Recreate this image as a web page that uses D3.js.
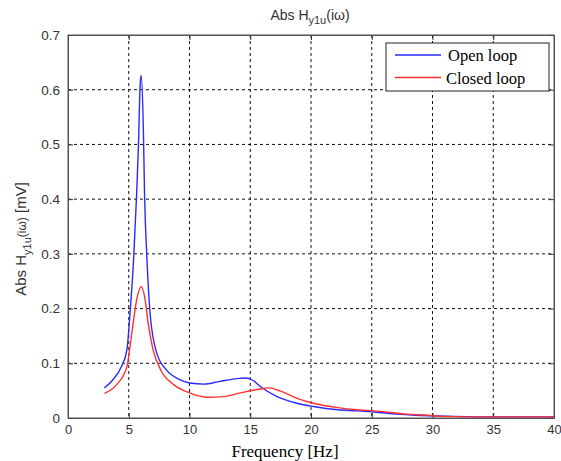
<!DOCTYPE html>
<html><head><meta charset="utf-8">
<script src="https://cdn.jsdelivr.net/npm/d3@7"></script>
<style>body{margin:0;background:#fff}svg{display:block}</style>
</head><body>
<script>
// Data (frequency in Hz, magnitude in mV)
const openFreq = [3, 3.7, 4.4, 4.85, 5.1, 5.4, 5.65, 5.8, 5.94, 6.02, 6.2, 6.3, 6.5, 6.76, 7.3, 8.1, 9.2, 10, 11.2, 12.5, 13.9, 14.6, 15.2, 15.8, 17.2, 18.85, 20.2, 22.2, 23.8, 25.2, 27.1, 28.6, 31.8, 35, 40];
const openVals = [0.055, 0.07, 0.094, 0.125, 0.19, 0.29, 0.41, 0.50, 0.61, 0.626, 0.53, 0.41, 0.29, 0.19, 0.119, 0.088, 0.07, 0.064, 0.062, 0.067, 0.072, 0.073, 0.069, 0.058, 0.039, 0.027, 0.021, 0.015, 0.013, 0.011, 0.007, 0.005, 0.003, 0.002, 0.002];
const closedFreq = [3, 4, 4.85, 5.25, 5.65, 6.02, 6.35, 6.6, 7.0, 7.7, 8.7, 10, 11.5, 12.8, 14.2, 15.6, 16.5, 17.5, 18.85, 20.2, 22.2, 23.8, 25.2, 27.9, 29.6, 30.7, 35, 40];
const closedVals = [0.045, 0.061, 0.094, 0.155, 0.216, 0.24, 0.216, 0.173, 0.125, 0.085, 0.061, 0.046, 0.038, 0.039, 0.046, 0.052, 0.055, 0.049, 0.036, 0.027, 0.019, 0.015, 0.013, 0.007, 0.005, 0.003, 0.002, 0.002];
const xTicks = [0, 5, 10, 15, 20, 25, 30, 35, 40];
const yTicks = [0, 0.1, 0.2, 0.3, 0.4, 0.5, 0.6, 0.7];
const seriesNames = ["Open loop", "Closed loop"];
const seriesColors = ["#2a2aff", "#ff3030"];

const W = 561, H = 461;
const L = 68, R = 554, T = 35, B = 418;
const svg = d3.select("body").append("svg").attr("width", W).attr("height", H);
const x = d3.scaleLinear().domain([0, 40]).range([L, R]);
const y = d3.scaleLinear().domain([0, 0.7]).range([B, T]);
const txt = "#333";
const sans = "Arial, 'Liberation Sans', sans-serif";

// grid
const g = svg.append("g");
g.selectAll(".gx").data(xTicks.slice(1, -1)).join("line")
  .attr("x1", d => x(d)).attr("x2", d => x(d)).attr("y1", T).attr("y2", B)
  .attr("stroke", "#111").attr("stroke-width", 1).attr("stroke-dasharray", "3,3");
g.selectAll(".gy").data(yTicks.slice(1, -1)).join("line")
  .attr("y1", d => y(d)).attr("y2", d => y(d)).attr("x1", L).attr("x2", R)
  .attr("stroke", "#111").attr("stroke-width", 1).attr("stroke-dasharray", "3,3");

// axes with inside ticks
const xb = d3.axisBottom(x).tickValues(xTicks).tickFormat(d3.format("d")).tickSizeInner(-5).tickSizeOuter(0).tickPadding(7);
const yl = d3.axisLeft(y).tickValues(yTicks).tickFormat(d => d === 0 ? "0" : d3.format(".1f")(d)).tickSizeInner(-5).tickSizeOuter(0).tickPadding(8);
const gxB = svg.append("g").attr("transform", `translate(0,${B})`).call(xb);
const gyL = svg.append("g").attr("transform", `translate(${L},0)`).call(yl);
svg.append("g").attr("transform", `translate(0,${T})`).call(d3.axisTop(x).tickValues(xTicks).tickSizeInner(-5).tickSizeOuter(0).tickFormat(""));
svg.append("g").attr("transform", `translate(${R},0)`).call(d3.axisRight(y).tickValues(yTicks).tickSizeInner(-5).tickSizeOuter(0).tickFormat(""));
svg.selectAll(".domain").attr("stroke", "#555");
svg.selectAll(".tick line").attr("stroke", "#333");
svg.selectAll(".tick text").attr("fill", txt).attr("font-family", sans).attr("font-size", 13.5);
gxB.selectAll(".tick text").attr("dy", "0.71em").attr("font-size", 13);

// frame
svg.append("rect").attr("x", L).attr("y", T).attr("width", R - L).attr("height", B - T)
  .attr("fill", "none").attr("stroke", "#555").attr("stroke-width", 1);

// lines
const line = d3.line().x(d => x(d[0])).y(d => y(d[1])).curve(d3.curveMonotoneX);
const series = [d3.zip(openFreq, openVals), d3.zip(closedFreq, closedVals)];
series.forEach((s, i) => {
  svg.append("path").datum(s).attr("d", line).attr("fill", "none")
    .attr("stroke", seriesColors[i]).attr("stroke-width", 1.4);
});

// legend
const lg = svg.append("g");
lg.append("rect").attr("x", 386).attr("y", 43).attr("width", 163).attr("height", 48)
  .attr("fill", "#fff").attr("stroke", "#222").attr("stroke-width", 1);
seriesNames.forEach((n, i) => {
  const yy = 55 + i * 22.5;
  lg.append("line").attr("x1", 395).attr("x2", 441).attr("y1", yy).attr("y2", yy)
    .attr("stroke", seriesColors[i]).attr("stroke-width", 1.4);
  lg.append("text").attr("x", i === 0 ? 448 : 446).attr("y", yy + 6).text(n)
    .attr("font-family", "'Liberation Serif', 'Times New Roman', serif").attr("font-size", 16.5).attr("fill", "#000");
});

// title
const title = svg.append("text").attr("x", 310).attr("y", 20).attr("text-anchor", "middle")
  .attr("font-family", sans).attr("font-size", 14).attr("fill", txt);
title.append("tspan").text("Abs H");
title.append("tspan").attr("dy", 4).attr("font-size", 11).text("y1u");
title.append("tspan").attr("dy", -4).text("(iω)");

// y label
const ylab = svg.append("text").attr("transform", `translate(26,239) rotate(-90)`).attr("text-anchor", "middle")
  .attr("font-family", sans).attr("font-size", 15).attr("fill", txt);
ylab.append("tspan").text("Abs H");
ylab.append("tspan").attr("dy", 5).attr("font-size", 11).text("y1u");
ylab.append("tspan").attr("dy", -5).attr("font-size", 12).text("(iω)");
ylab.append("tspan").text(" [mV]");

// x label
svg.append("text").attr("x", 285).attr("y", 457).attr("text-anchor", "middle")
  .attr("font-family", "'Liberation Serif', 'Times New Roman', serif").attr("font-size", 17).attr("fill", "#000")
  .text("Frequency [Hz]");
</script>
</body></html>
